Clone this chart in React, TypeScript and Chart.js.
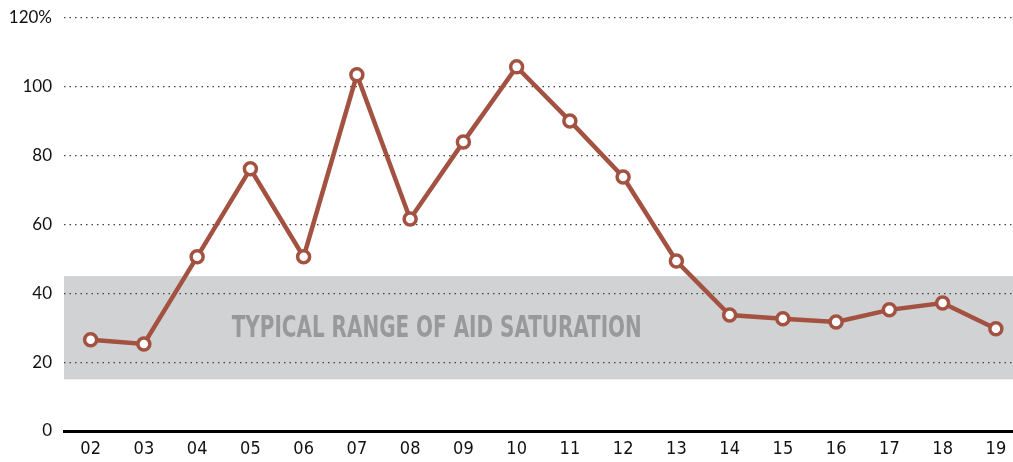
import React, { useEffect, useRef } from "react";
import { Chart, registerables } from "chart.js";

Chart.register(...registerables);

const years = ["02", "03", "04", "05", "06", "07", "08", "09", "10", "11", "12", "13", "14", "15", "16", "17", "18", "19"];
const saturation = [26.5, 25.3, 50.6, 76.2, 50.6, 103.5, 61.6, 84.0, 105.8, 90.1, 73.8, 49.4, 33.7, 32.6, 31.7, 35.2, 37.2, 29.7];
const bandLow = 15;
const bandHigh = 45;
const bandLabel = "TYPICAL RANGE OF AID SATURATION";
const yTicks = [0, 20, 40, 60, 80, 100, 120];

const bandPlugin = {
  id: "band",
  beforeDraw(chart: any) {
    const { ctx, chartArea, scales } = chart;
    const y = scales.y;
    const top = y.getPixelForValue(bandHigh);
    const bot = y.getPixelForValue(bandLow);
    ctx.save();
    ctx.fillStyle = "#d1d2d4";
    ctx.fillRect(chartArea.left, top, chart.width - chartArea.left, bot - top);
    ctx.restore();
  },
  beforeDatasetsDraw(chart: any) {
    const { ctx, scales } = chart;
    const x = (scales.x.getPixelForValue(6) + scales.x.getPixelForValue(7)) / 2;
    const y = scales.y.getPixelForValue((bandLow + bandHigh) / 2);
    ctx.save();
    ctx.font = "bold 30px 'Liberation Sans Narrow', 'DejaVu Sans Condensed', sans-serif";
    ctx.fillStyle = "#98999b";
    ctx.textAlign = "center";
    ctx.textBaseline = "middle";
    const w = ctx.measureText(bandLabel).width;
    const target = 410;
    ctx.translate(x, y);
    ctx.scale(target / w, 1);
    ctx.fillText(bandLabel, 0, 1);
    ctx.restore();
  },
};

export default function App() {
  const ref = useRef<HTMLCanvasElement>(null);
  useEffect(() => {
    if (!ref.current) return;
    const chart = new Chart(ref.current, {
      type: "line",
      data: {
        labels: years,
        datasets: [
          {
            data: saturation,
            borderColor: "#a35241",
            borderWidth: 4.5,
            pointRadius: 6,
            pointBorderWidth: 3.5,
            pointBackgroundColor: "#ffffff",
            pointBorderColor: "#a35241",
            tension: 0,
            clip: false as any,
          },
        ],
      },
      options: {
        responsive: false,
        animation: false,
        maintainAspectRatio: false,
        layout: { padding: { top: 18, right: 0, bottom: 0, left: 0 } },
        plugins: { legend: { display: false }, tooltip: { enabled: false } },
        scales: {
          x: {
            offset: true,
            grid: { display: false, drawTicks: false },
            border: { display: true, color: "#000000", width: 3 },
            ticks: {
              color: "#111",
              padding: 8,
              font: { family: "'Liberation Sans Narrow', 'DejaVu Sans Condensed', sans-serif", size: 18 },
              maxRotation: 0,
              autoSkip: false,
            },
            afterFit(scale: any) {
              scale.height = 31;
            },
          },
          y: {
            min: 0,
            max: 120,
            afterBuildTicks(scale: any) {
              scale.ticks = yTicks.map((v) => ({ value: v }));
            },
            grid: {
              drawTicks: false,
              color: (c: any) => (c.tick && c.tick.value === 0 ? "rgba(0,0,0,0)" : "#444"),
              lineWidth: 1.2,
            },
            border: { display: false, dash: [1.5, 4] },
            ticks: {
              color: "#111",
              padding: 12,
              font: { family: "Lato, sans-serif", size: 17 },
              callback: (v: any) => (v === 120 ? "120%" : String(v)),
            },
            afterFit(scale: any) {
              scale.width = 64;
              scale.paddingTop = 0;
              scale.paddingBottom = 0;
            },
          },
        },
      },
      plugins: [bandPlugin],
    });
    return () => chart.destroy();
  }, []);
  return (
    <div style={{ position: "fixed", left: 0, top: 0, width: 1013, height: 462, overflow: "hidden", background: "#fff" }}>
      <canvas ref={ref} width={1032} height={462} style={{ display: "block" }} />
    </div>
  );
}
